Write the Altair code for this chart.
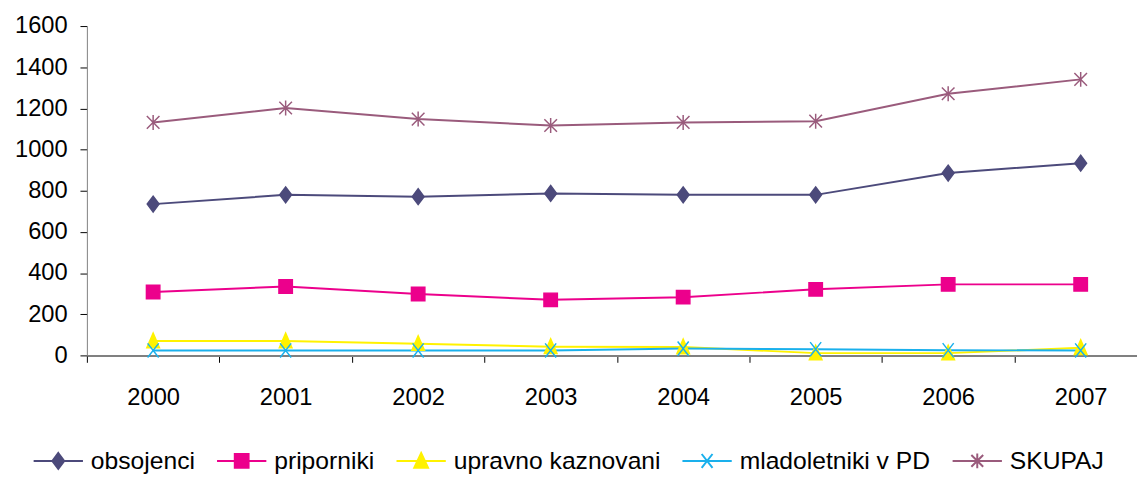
import json
import altair as alt
import pandas as pd

years = ["2000", "2001", "2002", "2003", "2004", "2005", "2006", "2007"]
series_names = ["obsojenci", "priporniki", "upravno kaznovani", "mladoletniki v PD", "SKUPAJ"]

obsojenci = [735, 780, 771, 787, 780, 780, 886, 934]
priporniki = [308, 335, 298, 270, 283, 321, 345, 345]
upravno_kaznovani = [70, 70, 57, 42, 41, 11, 11, 37]
mladoletniki_v_pd = [24, 24, 24, 24, 33, 30, 25, 24]
skupaj = [1132, 1202, 1148, 1117, 1132, 1138, 1271, 1341]

y_ticks = [0, 200, 400, 600, 800, 1000, 1200, 1400, 1600]

colors = ["#4C4A7B", "#EC008C", "#FFF200", "#1AB0EC", "#9A5B7C"]

# marker shapes in the plot (unit box -1..1)
marker_paths = [
    "M0,-1L0.75,0L0,1L-0.75,0Z",
    "M-0.85,-0.85L0.85,-0.85L0.85,0.85L-0.85,0.85Z",
    "M0,-1L0.8,0.85L-0.8,0.85Z",
    "M-0.7,-0.9L0.7,0.9M-0.7,0.9L0.7,-0.9",
    "M-0.8,-0.8L0.8,0.8M-0.8,0.8L0.8,-0.8M0,-0.95L0,0.95",
]
# legend symbols: line segment + marker
legend_paths = [
    "M-1,0L1,0M0,-0.32L0.24,0L0,0.32L-0.24,0Z",
    "M-1,0L1,0M-0.28,-0.28L0.28,-0.28L0.28,0.28L-0.28,0.28Z",
    "M-1,0L1,0M0,-0.32L0.28,0.28L-0.28,0.28Z",
    "M-1,0L1,0M-0.22,-0.28L0.22,0.28M-0.22,0.28L0.22,-0.28",
    "M-1,0L1,0M-0.24,-0.24L0.24,0.24M-0.24,0.24L0.24,-0.24M0,-0.3L0,0.3",
]

rows = []
for name, vals in zip(series_names, [obsojenci, priporniki, upravno_kaznovani, mladoletniki_v_pd, skupaj]):
    for i, (yr, v) in enumerate(zip(years, vals)):
        rows.append({"idx": i, "year": yr, "series": name, "value": v})
df = pd.DataFrame(rows)

FONT = "Liberation Sans"
n = len(years)
# category axis: ticks on category boundaries, labels at category centres
x_tick_values = [i * 0.5 - 0.5 for i in range(2 * n)]
label_expr = "datum.value % 1 === 0 ? " + json.dumps(years) + "[datum.value] : ''"

x_enc = alt.X(
    "idx:Q",
    scale=alt.Scale(domain=[-0.5, 7.425], nice=False, zero=False),
    axis=alt.Axis(
        title=None, labelAngle=0, grid=False, values=x_tick_values,
        labelExpr=label_expr, labelFlush=False, labelOverlap=False, labelBound=False,
        labelFont=FONT, labelFontSize=24, labelColor="#000000", labelPadding=24,
        tickSize=7, tickColor="#000000",
        tickOpacity={"condition": {"test": "datum.value % 1 === 0", "value": 0}, "value": 1},
        domainColor="#808080", domainWidth=2,
    ),
)
y_enc = alt.Y(
    "value:Q",
    scale=alt.Scale(domain=[0, 1600], nice=False),
    axis=alt.Axis(
        title=None, values=y_ticks, grid=False, format="d",
        labelFont=FONT, labelFontSize=24, labelColor="#000000", labelPadding=13,
        tickSize=7, tickColor="#000000", domainColor="#808080", domainWidth=1,
    ),
)

color_scale = alt.Scale(domain=series_names, range=colors)

leg = alt.Legend(
    title=None, orient="none", legendX=-55, legendY=415, direction="horizontal",
    columns=5, symbolSize=2500, symbolStrokeWidth=2, symbolOpacity=1,
    labelFont=FONT, labelFontSize=25, labelColor="#000000", labelOffset=7,
    labelLimit=0, columnPadding=18, padding=0,
)

# legend-only layer (draws no marks, carries the legend) - placed first so its legend settings win
legend_layer = (
    alt.Chart(df)
    .transform_filter("false")
    .mark_point(size=2500, strokeWidth=2, opacity=1)
    .encode(
        x=x_enc, y=y_enc,
        fill=alt.Fill("series:N", scale=color_scale, legend=leg),
        stroke=alt.Stroke("series:N", scale=color_scale, legend=leg),
        shape=alt.Shape("series:N", scale=alt.Scale(domain=series_names, range=legend_paths), legend=leg),
    )
)

lines = alt.Chart(df).mark_line(strokeWidth=2).encode(
    x=x_enc, y=y_enc,
    color=alt.Color("series:N", scale=color_scale, legend=None),
)

layers = [legend_layer, lines]
for name, path in zip(series_names, marker_paths):
    layers.append(
        alt.Chart(df)
        .transform_filter(alt.datum.series == name)
        .mark_point(shape=path, size=256, strokeWidth=1.5, opacity=1)
        .encode(
            x=x_enc, y=y_enc,
            fill=alt.Fill("series:N", scale=color_scale, legend=None),
            stroke=alt.Stroke("series:N", scale=color_scale, legend=None),
        )
    )

chart = (
    alt.layer(*layers)
    .properties(
        width=1065, height=334,
        autosize=alt.AutoSizeParams(type="none"),
        padding={"left": 80, "top": 15, "right": 0, "bottom": 120},
        background="#FFFFFF",
    )
    .configure_view(stroke=None)
)

chart.save("out.html", embed_options={"renderer": "svg", "actions": False})
